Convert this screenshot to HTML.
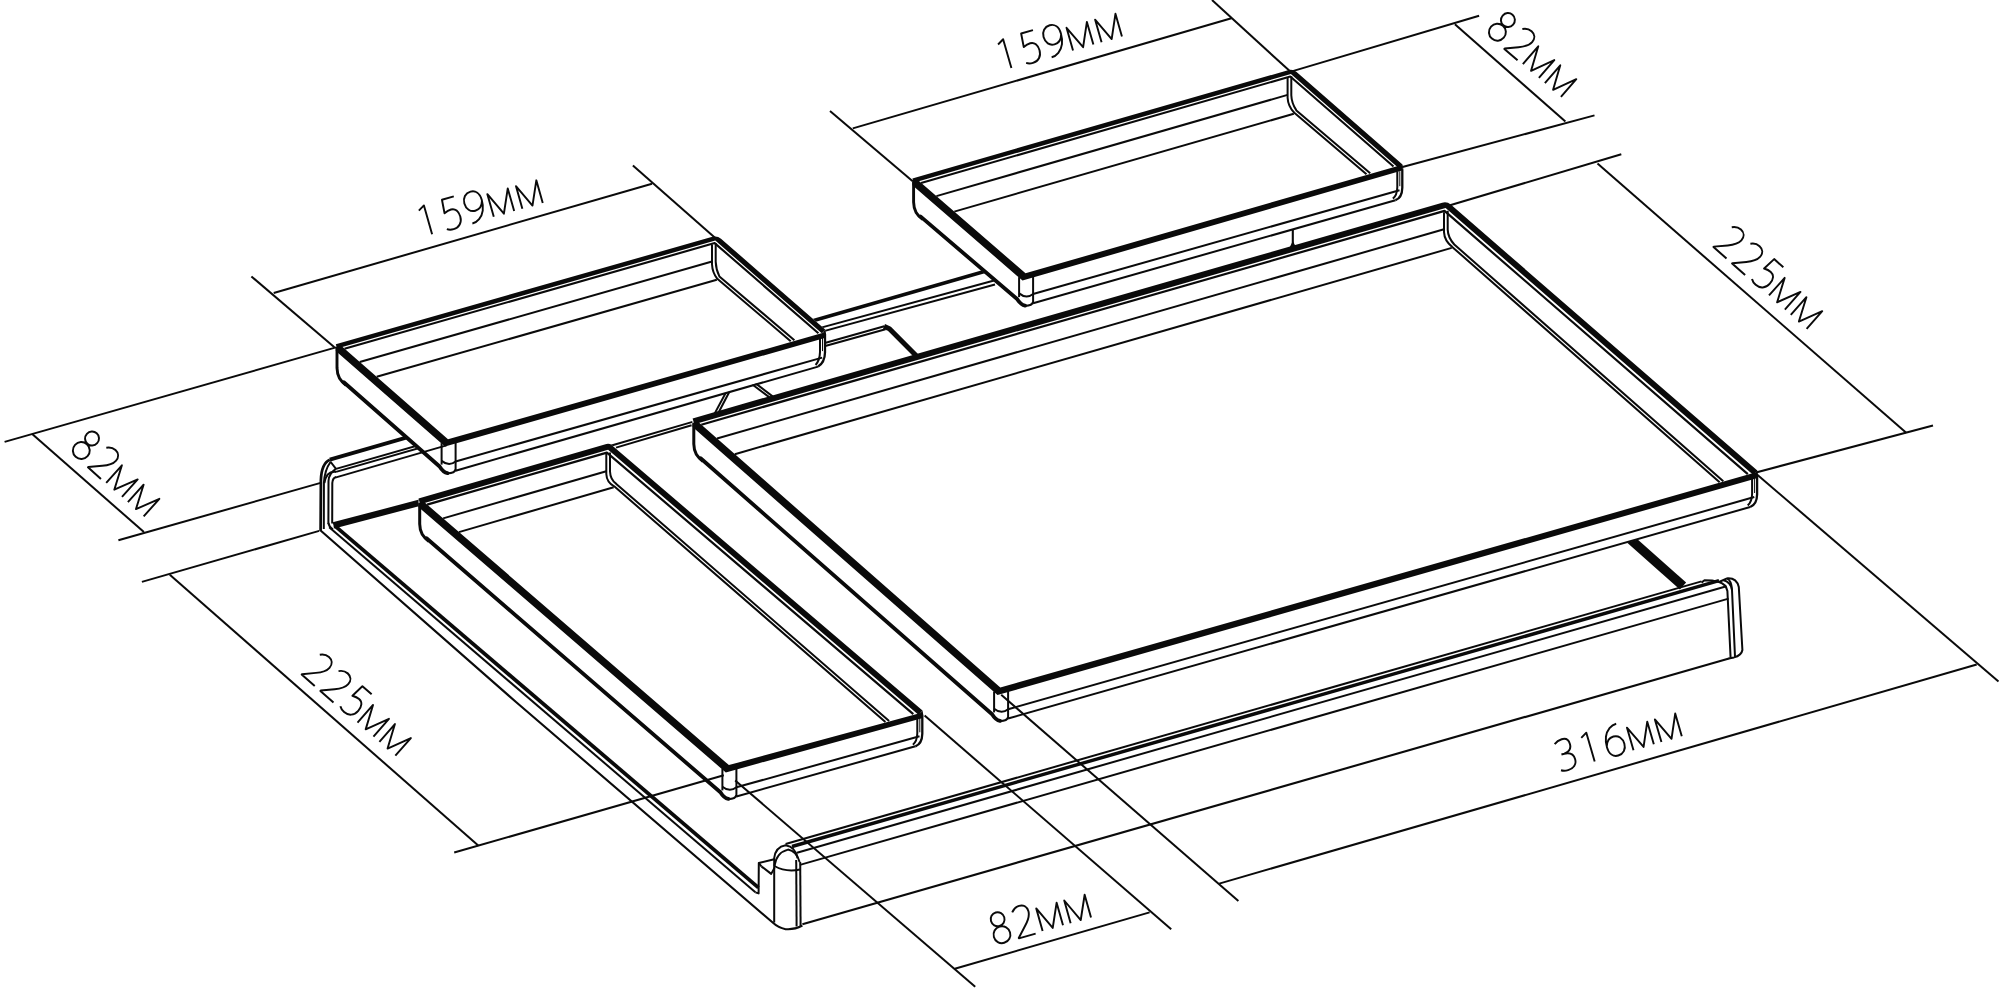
<!DOCTYPE html>
<html lang="ru"><head><meta charset="utf-8"><title>Tray set dimensions</title>
<style>
html,body{margin:0;padding:0;background:#fff}
body{width:2000px;height:988px;overflow:hidden}
svg{display:block}
svg path{fill:none;stroke:#0a0a0a;stroke-linejoin:round}
svg text{font-family:"Liberation Sans",sans-serif;white-space:pre}
</style></head><body>
<svg width="2000" height="988" viewBox="0 0 2000 988">
<rect width="2000" height="988" fill="#fff"/>
<!-- base -->
<path d="M329.8 459.6 L1000 267" stroke-width="3.8"/>
<path d="M336 468.9 L470 430.5" stroke-width="2"/>
<path d="M336 471.9 L470 433.5" stroke-width="2"/>
<path d="M800 333.4 L995 280.3" stroke-width="2"/>
<path d="M800 337.6 L995 284.5" stroke-width="2"/>
<path d="M800 350 L884.3 326.3" stroke-width="2"/>
<path d="M800 353 L885.5 329.2" stroke-width="2"/>
<path d="M884 326.4 L889.4 328.8 L918 357.6" stroke-width="5"/>
<path d="M752 384.2 L771.5 398.9" stroke-width="2"/>
<path d="M754.6 382.6 L774.2 397.6" stroke-width="2"/>
<path d="M714.2 414.4 L725.8 392.8" stroke-width="2"/>
<path d="M717.8 414 L729.4 391.8" stroke-width="2"/>
<path d="M609 446.2 L692.6 421.9" stroke-width="2"/>
<path d="M616 447.6 L691.6 425.2" stroke-width="2"/>
<path d="M1292.8 229.5 L1292.8 246" stroke-width="2.1"/>
<path d="M1292.8 241 L1297 249 L1288.5 249.8 Z" style="fill:#0a0a0a;stroke:none"/>
<path d="M320.6 531 L320.9 480 Q321.5 463.5 329.8 459.8" stroke-width="2.7"/>
<path d="M323.8 529 L323.9 483 Q324.6 470 330.5 462" stroke-width="2"/>
<path d="M328.4 524 L328.5 481 Q329 473 336 468.9" stroke-width="2"/>
<path d="M332.2 523.5 L332.3 483 Q332.6 478 336 477" stroke-width="2"/>
<path d="M324.4 483 Q326.5 470.5 336 471.9" stroke-width="2"/>
<path d="M330.3 461.5 L336 468.9" stroke-width="2"/>
<path d="M333.5 525.4 L421 502.4" stroke-width="6.3"/>
<path d="M328.4 523 Q329 527 333 529.5" stroke-width="2"/>
<path d="M320.6 530.5 L516 702 L772.4 922.3 Q778 927.6 785.6 929.2 Q794 930 802.4 925.6" stroke-width="2.1"/>
<path d="M329.2 527.3 L755.4 892.2" stroke-width="2"/>
<path d="M334.6 525.6 L758.4 887.6" stroke-width="3.8"/>
<path d="M755.4 892.4 L758.6 893.4 L758.8 863 L774.2 859.2" stroke-width="2"/>
<path d="M761.4 866.4 L771.2 873.9 L774.6 867.6" stroke-width="2"/>
<path d="M758.8 863 L761.4 866.4" stroke-width="2"/>
<path d="M785.6 844 L1701.5 581.4" stroke-width="2"/>
<path d="M792 846.5 L1719 580.7" stroke-width="3.4"/>
<path d="M797 852.7 L1726.5 586.2" stroke-width="2"/>
<path d="M800 864.9 L1728.6 598.6" stroke-width="2"/>
<path d="M802.4 924.2 L1729 658.5" stroke-width="2.1"/>
<path d="M774.2 922.5 L774.2 858 Q775.5 847 785.6 845.2 Q795.5 846.5 797.6 858.4" stroke-width="2"/>
<path d="M774.4 866 Q776.5 852.5 788 849.6 Q796.5 851 799.6 862" stroke-width="2"/>
<path d="M796.2 860 L796.6 926.6" stroke-width="2"/>
<path d="M800.2 862 L800.6 926" stroke-width="2"/>
<path d="M774.4 866 Q786 872.5 800 869.5" stroke-width="2"/>
<path d="M1701.5 582.6 L1704.5 580.2 L1712 580.6 L1719 582 L1727 578.4 Q1736.5 577.6 1738.8 587 L1742.4 650 Q1741.5 655.5 1734 657.4 L1728.6 658.6" stroke-width="2"/>
<path d="M1719 582 Q1726 584 1727.4 591 L1730.6 657.8" stroke-width="2"/>
<path d="M1723 580 Q1731 582 1732 590 L1735 657" stroke-width="2"/>
<path d="M1727 578.4 Q1731.5 580.5 1732 590" stroke-width="2"/>
<path d="M1630.6 539.6 L1683 586" stroke-width="9.4"/>
<!-- tray_big -->
<path d="M692.6 420.3 L1449.2 203.2 L1757.3 471.3 L1757.9 499 L1750.2 507.4 L1008.1 719 L1001 721.8 L991.5 715.7 L702.9 461.9 L695.1 455 L692.6 443.5 Z" style="fill:#fff;stroke:none"/>
<path d="M692.6 418.4 L1442.2 202.7 Q1447 201.3 1450.8 204.6 L1757.3 470.6 L1753.4 475.1 L1445.6 208 L694.3 424.3 Z" style="fill:#0a0a0a;stroke:none"/>
<path d="M701.3 424.7 L1444.5 210.9 L1747.8 474.2" stroke-width="2.2"/>
<path d="M1444 212.2 L1444 232.1 Q1444.4 240.6 1452.2 246.9 L1719.6 482.2" stroke-width="2"/>
<path d="M1447.7 210.7 L1447.7 229.6 Q1448 237.6 1454.3 244.5 L1723.3 481.2" stroke-width="2"/>
<path d="M717 438.5 L1444 229.3" stroke-width="2"/>
<path d="M734.8 454.2 L1451.7 247.9" stroke-width="2"/>
<path d="M1757.3 470.6 L1758.1 475.5 L1757.7 478.1 L1756.1 472.3 L1753.4 475.1 Z" style="fill:#0a0a0a;stroke:none"/>
<path d="M692.6 422.8 L692.6 427.1 L997.5 695 L1757.7 478.1 L1757.2 473.5 L1756.1 472.3 L1000.3 687.5 L698.6 422.3 Z" style="fill:#0a0a0a;stroke:none"/>
<path d="M693.8 423.3 L693.8 444 C694 453 697.2 456.7 702.9 461.4" stroke-width="3"/>
<path d="M700.6 458.3 L992.1 714.3 Q995.7 720.2 1000 720.9" stroke-width="3.8" stroke-linecap="round"/>
<path d="M1000 721.2 Q1007.1 721 1008.1 717.3" stroke-width="2.2"/>
<path d="M994.1 691.5 L994.1 712.4" stroke-width="2"/>
<path d="M1008.1 689.5 L1008.1 718.5" stroke-width="2"/>
<path d="M994.1 708.7 Q1001.4 714.6 1008.1 709.3" stroke-width="2"/>
<path d="M1008.1 709.3 L1754.3 497" stroke-width="2"/>
<path d="M1008.1 718.5 L1750.2 507" stroke-width="2"/>
<path d="M1757.1 476 L1757.1 494.5 Q1756.9 504.5 1750.2 507" stroke-width="2.3"/>
<path d="M1752.1 478 L1752.1 494 Q1751.9 502 1747.7 505.4" stroke-width="2"/>
<path d="M1754.6 478 L1754.6 493" stroke-width="1"/>
<!-- tray_3 -->
<path d="M418.5 500.3 L611.5 445.1 L922.5 710.6 L923.1 738.3 L915.4 746.7 L736.4 797 L729.3 799.8 L719.8 793.7 L428.8 541.9 L421 535 L418.5 523.5 Z" style="fill:#fff;stroke:none"/>
<path d="M418.5 498.4 L606.4 444 Q609.3 443.2 611.6 445.1 L922.5 710.6 L918.7 715 L608.1 449.8 L420.2 504.2 Z" style="fill:#0a0a0a;stroke:none"/>
<path d="M427.1 504.6 L606.9 452.6 L913.3 714.2" stroke-width="2.2"/>
<path d="M606.3 454.1 L606.3 474 Q606.7 482.5 614.2 486.3 L885.4 721.9" stroke-width="2"/>
<path d="M610 452.6 L610 471.5 Q610.3 479.5 616.3 483.9 L889.1 720.9" stroke-width="2"/>
<path d="M443.1 518.4 L606.3 471.2" stroke-width="2"/>
<path d="M458.9 532.1 L613.7 487.3" stroke-width="2"/>
<path d="M922.5 710.6 L923.3 714.8 L922.9 718 L921.5 712.8 L918.7 715 Z" style="fill:#0a0a0a;stroke:none"/>
<path d="M418.5 502.8 L418.5 507.1 L725.8 772.4 L922.9 718 L922.4 712.8 L921.5 712.8 L728.9 765.1 L424.5 502.3 Z" style="fill:#0a0a0a;stroke:none"/>
<path d="M419.7 503.3 L419.7 524 C419.9 533 423.1 536.7 428.8 541.4" stroke-width="3"/>
<path d="M426.5 538.3 L720.4 792.3 Q724 798.2 728.3 798.9" stroke-width="3.8" stroke-linecap="round"/>
<path d="M728.3 799.2 Q735.4 799 736.4 795.3" stroke-width="2.2"/>
<path d="M722.4 768.9 L722.4 790.4" stroke-width="2"/>
<path d="M736.4 766.9 L736.4 796.5" stroke-width="2"/>
<path d="M722.4 786.7 Q729.7 792.6 736.4 787.3" stroke-width="2"/>
<path d="M736.4 787.3 L919.5 736.3" stroke-width="2"/>
<path d="M736.4 796.5 L915.4 746.3" stroke-width="2"/>
<path d="M922.3 715.3 L922.3 733.8 Q922.1 743.8 915.4 746.3" stroke-width="2.3"/>
<path d="M917.3 717.3 L917.3 733.3 Q917.1 741.3 912.9 744.7" stroke-width="2"/>
<path d="M919.8 717.3 L919.8 732.3" stroke-width="1"/>
<!-- tray_tl -->
<path d="M335.8 344.2 L717.2 235.4 L825.2 329.4 L825.8 357.1 L818.1 365.5 L455.6 471.2 L448.5 474 L439 467.9 L346.1 385.8 L338.3 378.9 L335.8 367.4 Z" style="fill:#fff;stroke:none"/>
<path d="M335.8 344.2 L712.4 236.8 Q717.2 235.4 721 238.7 L825.2 329.4 L821.8 333.3 L715.3 240.6 L337 348.5 Z" style="fill:#0a0a0a;stroke:none"/>
<path d="M344.5 348.7 L714.7 243.1 L818.4 333.3" stroke-width="2.1"/>
<path d="M712 244.4 L712 264.3 Q712.4 272.8 717.3 278.8 L790.7 341.2" stroke-width="2"/>
<path d="M715.7 242.9 L715.7 261.8 Q716 269.8 719.4 276.4 L794.4 340.2" stroke-width="2"/>
<path d="M359.7 362 L712 261.5" stroke-width="2"/>
<path d="M376.7 376.8 L716.8 279.8" stroke-width="2"/>
<path d="M825.2 329.4 L826 333.6 L825.6 337.7 L824.1 332.5 L821.8 333.3 Z" style="fill:#0a0a0a;stroke:none"/>
<path d="M335.8 346.7 L335.8 351 L445 446.6 L825.6 337.7 L825.1 331.6 L824.1 332.5 L448 439.3 L341.8 346.3 Z" style="fill:#0a0a0a;stroke:none"/>
<path d="M337 347.2 L337 367.9 C337.2 376.9 340.4 380.6 346.1 385.3" stroke-width="2.9"/>
<path d="M343.8 382.2 L439.6 466.5 Q443.2 472.4 447.5 473.1" stroke-width="3.8" stroke-linecap="round"/>
<path d="M447.5 473.4 Q454.6 473.2 455.6 469.5" stroke-width="2.2"/>
<path d="M441.6 443.1 L441.6 464.6" stroke-width="2"/>
<path d="M455.6 441.1 L455.6 470.7" stroke-width="2"/>
<path d="M441.6 460.9 Q448.9 466.8 455.6 461.5" stroke-width="2"/>
<path d="M455.6 461.5 L822.2 357.6" stroke-width="2"/>
<path d="M455.6 470.7 L818.1 366.6" stroke-width="2"/>
<path d="M825 334.1 L825 352.6 Q824.8 362.6 818.1 366.6" stroke-width="2.3"/>
<path d="M820 336.1 L820 352.1 Q819.8 360.1 815.6 365" stroke-width="2"/>
<path d="M822.5 336.1 L822.5 351.1" stroke-width="1"/>
<!-- tray_tr -->
<path d="M912.4 178.4 L1292.8 68.8 L1402.5 164.5 L1403.1 192.2 L1395.4 200.6 L1033.1 303.7 L1026 306.5 L1016.5 300.4 L922.7 220 L914.9 213.1 L912.4 201.6 Z" style="fill:#fff;stroke:none"/>
<path d="M912.4 178.4 L1288 70.2 Q1292.8 68.8 1296.6 72.1 L1402.5 164.5 L1399.1 168.4 L1290.9 74 L913.6 182.7 Z" style="fill:#0a0a0a;stroke:none"/>
<path d="M921.1 182.9 L1290.3 76.5 L1393.5 166.5" stroke-width="2.1"/>
<path d="M1287.6 77.8 L1287.6 97.7 Q1288 106.2 1294.3 112.8 L1366.5 174.3" stroke-width="2"/>
<path d="M1291.3 76.3 L1291.3 95.2 Q1291.6 103.2 1296.4 110.4 L1370.2 173.2" stroke-width="2"/>
<path d="M936.4 196.1 L1287.6 94.9" stroke-width="2"/>
<path d="M954.3 211.6 L1293.8 113.8" stroke-width="2"/>
<path d="M1402.5 164.5 L1403.3 168.7 L1402.9 170.2 L1401.4 165 L1399.1 168.4 Z" style="fill:#0a0a0a;stroke:none"/>
<path d="M912.4 180.9 L912.4 185.2 L1022.5 280.6 L1402.9 170.2 L1402.4 166.7 L1401.4 165 L1025.5 273.3 L918.4 180.4 Z" style="fill:#0a0a0a;stroke:none"/>
<path d="M913.6 181.4 L913.6 202.1 C913.8 211.1 917 214.8 922.7 219.5" stroke-width="2.9"/>
<path d="M920.4 216.4 L1017.1 299 Q1020.7 304.9 1025 305.6" stroke-width="3.8" stroke-linecap="round"/>
<path d="M1025 305.9 Q1032.1 305.7 1033.1 302" stroke-width="2.2"/>
<path d="M1019.1 277.1 L1019.1 297.1" stroke-width="2"/>
<path d="M1033.1 275.1 L1033.1 303.2" stroke-width="2"/>
<path d="M1019.1 293.4 Q1026.4 299.3 1033.1 294" stroke-width="2"/>
<path d="M1033.1 294 L1399.5 190.2" stroke-width="2"/>
<path d="M1033.1 303.2 L1395.4 200.2" stroke-width="2"/>
<path d="M1402.3 169.2 L1402.3 187.7 Q1402.1 197.7 1395.4 200.2" stroke-width="2.3"/>
<path d="M1397.3 171.2 L1397.3 187.2 Q1397.1 195.2 1392.9 198.6" stroke-width="2"/>
<path d="M1399.8 171.2 L1399.8 186.2" stroke-width="1"/>
<!-- dims -->
<path d="M251.4 276.4 L334.4 347.3" stroke-width="2"/>
<path d="M632.9 165.5 L714.7 237.4" stroke-width="2"/>
<path d="M273.7 293 L652 183.7" stroke-width="2"/>
<path d="M4.6 441.9 L336 347.4" stroke-width="2"/>
<path d="M118.4 540.3 L320.6 482.9" stroke-width="2"/>
<path d="M335.2 477.6 L446.5 445.4" stroke-width="2"/>
<path d="M31.9 433.7 L143.9 532.1" stroke-width="2"/>
<path d="M830 111.1 L912.7 181.3" stroke-width="2"/>
<path d="M1212 0 L1290.3 71.6" stroke-width="2"/>
<path d="M852.8 128.4 L1231.4 18.2" stroke-width="2"/>
<path d="M1291 71.6 L1479.1 15.8" stroke-width="2"/>
<path d="M1402.5 167 L1594.5 115.4" stroke-width="2"/>
<path d="M1454.9 24.3 L1565.4 121.5" stroke-width="2"/>
<path d="M1447.5 206 L1621.3 154.3" stroke-width="2"/>
<path d="M1756 472.5 L1933 425.5" stroke-width="2"/>
<path d="M1597.5 163.6 L1906.2 432.8" stroke-width="2"/>
<path d="M1001.2 694.7 L1238.4 901.1" stroke-width="2"/>
<path d="M1757 474.5 L1998.5 681.5" stroke-width="2"/>
<path d="M1219.2 883.6 L1976.7 664.5" stroke-width="2"/>
<path d="M735.2 780.4 L975.2 986.8" stroke-width="2"/>
<path d="M924.6 715.6 L1171.2 929.2" stroke-width="2"/>
<path d="M954.8 968.8 L1149.6 912.4" stroke-width="2"/>
<path d="M141.9 581.9 L319.2 530.9" stroke-width="2"/>
<path d="M454.2 852.5 L723.8 775.3" stroke-width="2"/>
<path d="M169.8 574.7 L478.5 845.7" stroke-width="2"/>
<!-- labels -->
<g transform="translate(432.1 234.3) rotate(-15.8) scale(0.3 -0.3)" style="stroke-width:6.4;stroke-linejoin:miter;stroke-miterlimit:3"><path transform="translate(0 0)" d="M-21 88 L0 100 L0 0"/><path transform="translate(80 -2) scale(1 1.04)" d="M24 100 L-17 100 L-21 56 C-12 60 -5 62 3 62 C18 62 26.5 50 26.5 32 C26.5 12 13 -1 -6 -1 C-15 -1 -22 1 -28 5"/><path transform="translate(161 -2) scale(1 1.04)" d="M-22 0 C-5 -1 14 11 23 31 C28 42 29.5 54 29.5 65 C29.5 87 18 100 1 100 C-17 100 -29.5 87 -29.5 69 C-29.5 50 -18 37 -1 37 C12 37 24 45 29 61"/><path transform="translate(249 0)" d="M-35.3 0 L-35.3 78.5 L0 1 L35.3 78.5 L35.3 0"/><path transform="translate(348 0)" d="M-35.3 0 L-35.3 78.5 L0 1 L35.3 78.5 L35.3 0"/></g>
<g transform="translate(1011.4 68.1) rotate(-16) scale(0.3 -0.3)" style="stroke-width:6.4;stroke-linejoin:miter;stroke-miterlimit:3"><path transform="translate(0 0)" d="M-21 88 L0 100 L0 0"/><path transform="translate(80 -2) scale(1 1.04)" d="M24 100 L-17 100 L-21 56 C-12 60 -5 62 3 62 C18 62 26.5 50 26.5 32 C26.5 12 13 -1 -6 -1 C-15 -1 -22 1 -28 5"/><path transform="translate(161 -2) scale(1 1.04)" d="M-22 0 C-5 -1 14 11 23 31 C28 42 29.5 54 29.5 65 C29.5 87 18 100 1 100 C-17 100 -29.5 87 -29.5 69 C-29.5 50 -18 37 -1 37 C12 37 24 45 29 61"/><path transform="translate(249 0)" d="M-35.3 0 L-35.3 78.5 L0 1 L35.3 78.5 L35.3 0"/><path transform="translate(348 0)" d="M-35.3 0 L-35.3 78.5 L0 1 L35.3 78.5 L35.3 0"/></g>
<g transform="translate(1570.2 768.6) rotate(-16.2) scale(0.3 -0.3)" style="stroke-width:6.4;stroke-linejoin:miter;stroke-miterlimit:3"><path transform="translate(-3 -2) scale(1 1.04)" d="M-24 91 C-16 97 -7 100 3 100 C17 100 25 92 25 78 C25 63 14 54 -2 53 L-12 53 M-2 53 C17 52 27.5 43 27.5 27 C27.5 9 14 -1 -5 -1 C-14 -1 -22 1 -28 5"/><path transform="translate(85 0)" d="M-21 88 L0 100 L0 0"/><path transform="translate(167 -2) scale(1 1.04)" d="M22 99 C5 100 -14 88 -23 68 C-28 57 -29.5 45 -29.5 34 C-29.5 12 -18 -1 -1 -1 C17 -1 29.5 12 29.5 30 C29.5 49 18 62 1 62 C-12 62 -24 54 -29 38"/><path transform="translate(255 0)" d="M-35.3 0 L-35.3 78.5 L0 1 L35.3 78.5 L35.3 0"/><path transform="translate(352 0)" d="M-35.3 0 L-35.3 78.5 L0 1 L35.3 78.5 L35.3 0"/></g>
<g transform="translate(1004 941.9) rotate(-15.7) scale(0.3 -0.3)" style="stroke-width:6.4;stroke-linejoin:miter;stroke-miterlimit:3"><path transform="translate(0 -2) scale(1 1.04)" d="M0 55 C-13 55 -23 65 -23 77.5 C-23 90 -13 100 0 100 C13 100 23 90 23 77.5 C23 65 13 55 0 55 M0 53 C-16 53 -28 41 -28 26 C-28 11 -16 -1 0 -1 C16 -1 28 11 28 26 C28 41 16 53 0 53"/><path transform="translate(80 -2) scale(1 1.04)" d="M-27 86 C-19 96 -9 100 1 100 C16 100 26 90 26 75 C26 60 17 48 3 34 L-29 1.5 L-29 0 L29 0"/><path transform="translate(169 0)" d="M-35.3 0 L-35.3 78.5 L0 1 L35.3 78.5 L35.3 0"/><path transform="translate(266 0)" d="M-35.3 0 L-35.3 78.5 L0 1 L35.3 78.5 L35.3 0"/></g>
<g transform="translate(76.3 456.1) rotate(41.8) scale(0.3 -0.3)" style="stroke-width:6.4;stroke-linejoin:miter;stroke-miterlimit:3"><path transform="translate(0 -2) scale(1 1.04)" d="M0 55 C-13 55 -23 65 -23 77.5 C-23 90 -13 100 0 100 C13 100 23 90 23 77.5 C23 65 13 55 0 55 M0 53 C-16 53 -28 41 -28 26 C-28 11 -16 -1 0 -1 C16 -1 28 11 28 26 C28 41 16 53 0 53"/><path transform="translate(83 -2) scale(1 1.04)" d="M-27 86 C-19 96 -9 100 1 100 C16 100 26 90 26 75 C26 60 17 48 3 34 L-29 1.5 L-29 0 L29 0"/><path transform="translate(169 0)" d="M-35.3 0 L-35.3 78.5 L0 1 L35.3 78.5 L35.3 0"/><path transform="translate(266 0)" d="M-35.3 0 L-35.3 78.5 L0 1 L35.3 78.5 L35.3 0"/></g>
<g transform="translate(1492.5 37.9) rotate(40.8) scale(0.3 -0.3)" style="stroke-width:6.4;stroke-linejoin:miter;stroke-miterlimit:3"><path transform="translate(0 -2) scale(1 1.04)" d="M0 55 C-13 55 -23 65 -23 77.5 C-23 90 -13 100 0 100 C13 100 23 90 23 77.5 C23 65 13 55 0 55 M0 53 C-16 53 -28 41 -28 26 C-28 11 -16 -1 0 -1 C16 -1 28 11 28 26 C28 41 16 53 0 53"/><path transform="translate(83 -2) scale(1 1.04)" d="M-27 86 C-19 96 -9 100 1 100 C16 100 26 90 26 75 C26 60 17 48 3 34 L-29 1.5 L-29 0 L29 0"/><path transform="translate(169 0)" d="M-35.3 0 L-35.3 78.5 L0 1 L35.3 78.5 L35.3 0"/><path transform="translate(266 0)" d="M-35.3 0 L-35.3 78.5 L0 1 L35.3 78.5 L35.3 0"/></g>
<g transform="translate(308.6 679.8) rotate(41.2) scale(0.3 -0.3)" style="stroke-width:6.4;stroke-linejoin:miter;stroke-miterlimit:3"><path transform="translate(0 -2) scale(1 1.04)" d="M-27 86 C-19 96 -9 100 1 100 C16 100 26 90 26 75 C26 60 17 48 3 34 L-29 1.5 L-29 0 L29 0"/><path transform="translate(83 -2) scale(1 1.04)" d="M-27 86 C-19 96 -9 100 1 100 C16 100 26 90 26 75 C26 60 17 48 3 34 L-29 1.5 L-29 0 L29 0"/><path transform="translate(166 -2) scale(1 1.04)" d="M24 100 L-17 100 L-21 56 C-12 60 -5 62 3 62 C18 62 26.5 50 26.5 32 C26.5 12 13 -1 -6 -1 C-15 -1 -22 1 -28 5"/><path transform="translate(252 0)" d="M-35.3 0 L-35.3 78.5 L0 1 L35.3 78.5 L35.3 0"/><path transform="translate(349 0)" d="M-35.3 0 L-35.3 78.5 L0 1 L35.3 78.5 L35.3 0"/></g>
<g transform="translate(1720.4 252.3) rotate(41.6) scale(0.3 -0.3)" style="stroke-width:6.4;stroke-linejoin:miter;stroke-miterlimit:3"><path transform="translate(0 -2) scale(1 1.04)" d="M-27 86 C-19 96 -9 100 1 100 C16 100 26 90 26 75 C26 60 17 48 3 34 L-29 1.5 L-29 0 L29 0"/><path transform="translate(83 -2) scale(1 1.04)" d="M-27 86 C-19 96 -9 100 1 100 C16 100 26 90 26 75 C26 60 17 48 3 34 L-29 1.5 L-29 0 L29 0"/><path transform="translate(166 -2) scale(1 1.04)" d="M24 100 L-17 100 L-21 56 C-12 60 -5 62 3 62 C18 62 26.5 50 26.5 32 C26.5 12 13 -1 -6 -1 C-15 -1 -22 1 -28 5"/><path transform="translate(252 0)" d="M-35.3 0 L-35.3 78.5 L0 1 L35.3 78.5 L35.3 0"/><path transform="translate(349 0)" d="M-35.3 0 L-35.3 78.5 L0 1 L35.3 78.5 L35.3 0"/></g>
</svg>
</body></html>
